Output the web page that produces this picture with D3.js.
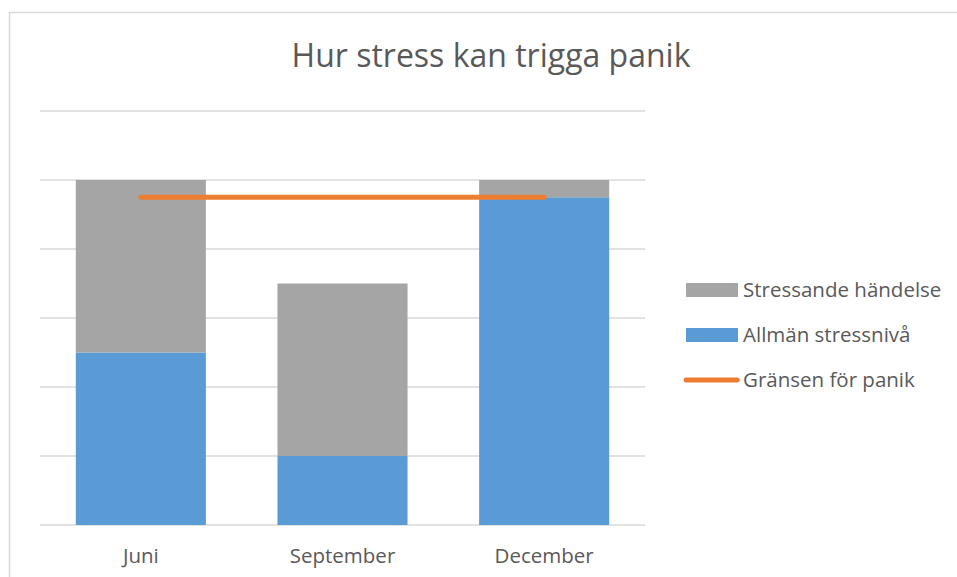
<!DOCTYPE html>
<html>
<head>
<meta charset="utf-8">
<script src="https://cdn.jsdelivr.net/npm/d3@7"></script>
<style>
  body { margin: 0; background: #fff; }
  svg text { font-family: "Open Sans", sans-serif; fill: #595959; }
</style>
</head>
<body>
<svg id="chart" width="957" height="577"></svg>
<script>
  var categories = ['Juni', 'September', 'December'];
  var allmanStress = [2.5, 1, 4.75];
  var stressandeHandelse = [2.5, 2.5, 0.25];
  var gransPanik = [4.75, 4.75, 4.75];
  var yTicks = [0, 1, 2, 3, 4, 5, 6];

  var colors = {
    gray: '#a5a5a5',
    blue: '#5b9bd5',
    orange: '#ed7d31',
    grid: '#d9d9d9'
  };

  var svg = d3.select('#chart');

  // chart frame
  svg.append('rect')
      .attr('x', 9.5)
      .attr('y', 12.5)
      .attr('width', 960)
      .attr('height', 600)
      .attr('fill', 'none')
      .attr('stroke', colors.grid)
      .attr('stroke-width', 1.5);

  svg.append('text')
      .attr('x', 491)
      .attr('y', 67)
      .attr('text-anchor', 'middle')
      .style('font-size', '32px')
      .text('Hur stress kan trigga panik');

  var x = d3.scaleBand()
      .domain(categories)
      .range([40, 645])
      .paddingInner(0.355)
      .paddingOuter(0.1775);

  var y = d3.scaleLinear()
      .domain([0, 6])
      .range([525, 111]);

  svg.append('g')
      .attr('class', 'grid')
    .selectAll('line')
    .data(yTicks)
    .enter().append('line')
      .attr('x1', 40)
      .attr('x2', 645)
      .attr('y1', function(d) { return y(d); })
      .attr('y2', function(d) { return y(d); })
      .attr('stroke', colors.grid)
      .attr('stroke-width', 1.5);

  var stacked = categories.map(function(c, i) {
    return { cat: c, allman: allmanStress[i], stress: stressandeHandelse[i] };
  });

  var bars = svg.append('g').attr('class', 'bars');

  bars.selectAll('.blue')
    .data(stacked)
    .enter().append('rect')
      .attr('class', 'blue')
      .attr('x', function(d) { return x(d.cat); })
      .attr('width', x.bandwidth())
      .attr('y', function(d) { return y(d.allman); })
      .attr('height', function(d) { return y(0) - y(d.allman); })
      .attr('fill', colors.blue);

  bars.selectAll('.gray')
    .data(stacked)
    .enter().append('rect')
      .attr('class', 'gray')
      .attr('x', function(d) { return x(d.cat); })
      .attr('width', x.bandwidth())
      .attr('y', function(d) { return y(d.allman + d.stress); })
      .attr('height', function(d) { return y(d.allman) - y(d.allman + d.stress); })
      .attr('fill', colors.gray);

  var line = d3.line()
      .x(function(d, i) { return x(categories[i]) + x.bandwidth() / 2; })
      .y(function(d) { return y(d); });

  svg.append('path')
      .datum(gransPanik)
      .attr('d', line)
      .attr('fill', 'none')
      .attr('stroke', colors.orange)
      .attr('stroke-width', 5)
      .attr('stroke-linecap', 'round');

  svg.append('g')
    .selectAll('text')
    .data(categories)
    .enter().append('text')
      .attr('x', function(d) { return x(d) + x.bandwidth() / 2; })
      .attr('y', 563)
      .attr('text-anchor', 'middle')
      .style('font-size', '20.5px')
      .text(function(d) { return d; });

  // legend
  var legendItems = [
    { name: 'Stressande händelse', color: colors.gray, type: 'rect' },
    { name: 'Allmän stressnivå', color: colors.blue, type: 'rect' },
    { name: 'Gränsen för panik', color: colors.orange, type: 'line' }
  ];

  var legend = svg.append('g')
      .attr('transform', 'translate(686, 290)');

  var item = legend.selectAll('.item')
    .data(legendItems)
    .enter().append('g')
      .attr('class', 'item')
      .attr('transform', function(d, i) { return 'translate(0,' + (i * 45) + ')'; });

  item.filter(function(d) { return d.type === 'rect'; })
    .append('rect')
      .attr('x', 0)
      .attr('y', -7)
      .attr('width', 52)
      .attr('height', 14)
      .attr('fill', function(d) { return d.color; });

  item.filter(function(d) { return d.type === 'line'; })
    .append('line')
      .attr('x1', 0)
      .attr('x2', 51)
      .attr('y1', 0)
      .attr('y2', 0)
      .attr('stroke', function(d) { return d.color; })
      .attr('stroke-width', 5)
      .attr('stroke-linecap', 'round');

  item.append('text')
      .attr('x', 57)
      .attr('y', 7)
      .style('font-size', '20.5px')
      .text(function(d) { return d.name; });
</script>
</body>
</html>
